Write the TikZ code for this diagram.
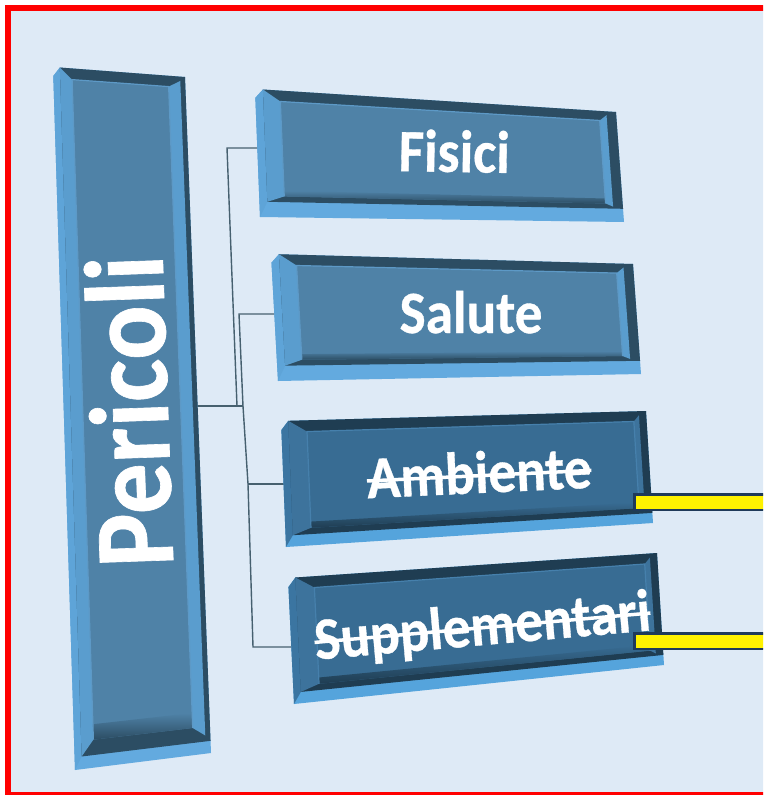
\documentclass[tikz,border=0pt]{standalone}
\usepackage{fontspec}
\setmainfont{Carlito}[BoldFeatures={FakeBold=0.6}]
\usetikzlibrary{calc}
\definecolor{bg}{HTML}{DEEAF6}
\definecolor{connc}{HTML}{46606F}
\definecolor{ybord}{HTML}{1F3A5A}
% light palette
\definecolor{LsideB}{HTML}{63AADF}
\definecolor{LsideL}{HTML}{5EA4D8}
\definecolor{Ldark}{HTML}{2C4D63}
\definecolor{Lbev}{HTML}{5A9DCE}
\definecolor{Lface}{HTML}{4F82A7}
\definecolor{Lframe}{HTML}{5D99C6}
% dark palette
\definecolor{DsideB}{HTML}{55A4DC}
\definecolor{DsideL}{HTML}{3B75A1}
\definecolor{Ddark}{HTML}{1F3D52}
\definecolor{Dbev}{HTML}{3D739C}
\definecolor{Dface}{HTML}{386C93}
\definecolor{Dframe}{HTML}{4680AC}
\newcommand\mkp[4]{\coordinate (#1-#2) at ($($(#1-tl)!#3!(#1-tr)$)!#4!($(#1-bl)!#3!(#1-br)$)$);}
% #1 name #2 sL #3 sB #4 bL #5 bR #6 dR #7 bT #8 bBt #9 palette
\newcommand\bevbox[9]{%
  \pgfmathsetmacro\uA{#2}%
  \pgfmathsetmacro\uB{#2+#4}%
  \pgfmathsetmacro\uC{1-#5-#6}%
  \pgfmathsetmacro\uD{1-#6}%
  \pgfmathsetmacro\vA{1-#3}%
  \pgfmathsetmacro\vB{#7}%
  \pgfmathsetmacro\vC{1-#3-#8}%
  \pgfmathsetmacro\vD{1-#3-2*#8}%
  \pgfmathsetmacro\vR{0.4*#7}%
  \pgfmathsetmacro\vS{1-#3-0.4*#8}%
  \pgfmathsetmacro\vK{0.8*#7}%
  \mkp{#1}{ftl}{\uA}{0}
  \mkp{#1}{ftr}{1}{0}
  \mkp{#1}{fbr}{1}{\vA}
  \mkp{#1}{fbl}{\uA}{\vA}
  \mkp{#1}{itl}{\uB}{\vB}
  \mkp{#1}{itr}{\uC}{\vB}
  \mkp{#1}{ibr}{\uC}{\vC}
  \mkp{#1}{ibl}{\uB}{\vC}
  \mkp{#1}{idr}{\uC}{\vD}
  \mkp{#1}{idl}{\uB}{\vD}
  \mkp{#1}{rt}{\uD}{\vR}
  \mkp{#1}{rb}{\uD}{\vS}
  \mkp{#1}{ch}{0}{\vK}
  \fill[#9sideB] (#1-ftl) -- (#1-tr) -- (#1-br) -- (#1-bl) -- (#1-ch) -- cycle;
  \fill[#9sideL] (#1-ftl) -- (#1-fbl) -- (#1-bl) -- (#1-ch) -- cycle;
  \fill[#9dark] (#1-ftl) -- (#1-ftr) -- (#1-fbr) -- (#1-fbl) -- cycle;
  \fill[#9bev] (#1-ftl) -- (#1-itl) -- (#1-ibl) -- (#1-fbl) -- cycle;
  \fill[#9bev] (#1-rt) -- (#1-itr) -- (#1-ibr) -- (#1-rb) -- cycle;
  \fill[#9face] (#1-itl) -- (#1-itr) -- (#1-ibr) -- (#1-ibl) -- cycle;
  \shade[top color=#9face, bottom color=#9dark] (#1-idl) -- (#1-idr) -- (#1-ibr) -- (#1-ibl) -- cycle;
  \draw[#9frame, line width=1.2pt] (#1-ibl) -- (#1-itl) -- (#1-itr) -- (#1-ibr);
}
\newcommand\mystrike[1]{\setbox0=\hbox{#1}\rlap{\copy0}\rule[0.26em]{\wd0}{0.058em}}
\begin{document}
\begin{tikzpicture}[x=1pt,y=-1pt,
  conn/.style={draw=connc, line width=1.4pt},
  lbl/.style={text=white, font=\bfseries\fontsize{60}{60}\selectfont, inner sep=0pt, anchor=base},
  ybar/.style={fill=yellow, draw=ybord, line width=2.5pt, inner sep=0pt, anchor=north west, minimum width=150pt, minimum height=15.5pt}]
\useasboundingbox (0,0) rectangle (763,795);
\clip (0,0) rectangle (763,795);
\fill[white] (0,0) rectangle (763,795);
\fill[bg] (8,8) rectangle (780,795);
\draw[red, line width=6pt] (8,8) rectangle (790,794.5);

% connectors
\coordinate (Pout) at (197,406);
\coordinate (j0) at (243,406);
\coordinate (j1) at (237,406);
\coordinate (c1) at (227,148);
\coordinate (Fin) at (264,148);
\coordinate (c2) at (239,314);
\coordinate (Sin) at (280,314);
\coordinate (c3) at (248,484);
\coordinate (Ain) at (285,484);
\coordinate (c4) at (253,647);
\coordinate (Uin) at (292,647);
\draw[conn] (Pout) -- (j0);
\draw[conn] (Fin) -- (c1) -- (j1);
\draw[conn] (Sin) -- (c2) -- (j0) -- (c3) -- (c4) -- (Uin);
\draw[conn] (c3) -- (Ain);

% Pericoli
\coordinate (P-tl) at (53,67); \coordinate (P-tr) at (185,77);
\coordinate (P-br) at (211,753); \coordinate (P-bl) at (75,770);
\bevbox{P}{0.052}{0.018}{0.09}{0.09}{0.037}{0.016}{0.022}{L}
% Fisici
\coordinate (F-tl) at (255,89); \coordinate (F-tr) at (616,112);
\coordinate (F-br) at (624,222); \coordinate (F-bl) at (260,217);
\bevbox{F}{0.022}{0.12}{0.047}{0.02}{0.027}{0.086}{0.045}{L}
% Salute
\coordinate (S-tl) at (271,254); \coordinate (S-tr) at (633,264);
\coordinate (S-br) at (641,374); \coordinate (S-bl) at (278,381);
\bevbox{S}{0.022}{0.12}{0.047}{0.02}{0.027}{0.086}{0.045}{L}
% Ambiente
\coordinate (A-tl) at (281,421); \coordinate (A-tr) at (646,411);
\coordinate (A-br) at (653,523); \coordinate (A-bl) at (286,547);
\bevbox{A}{0.02}{0.09}{0.05}{0.015}{0.02}{0.09}{0.05}{D}
% Supplementari
\coordinate (U-tl) at (288,578); \coordinate (U-tr) at (657,553);
\coordinate (U-br) at (664,665); \coordinate (U-bl) at (294,704);
\bevbox{U}{0.02}{0.09}{0.05}{0.015}{0.02}{0.09}{0.05}{D}

% labels
\node[lbl, font=\bfseries\fontsize{113}{113}\selectfont, rotate=92, xscale=0.9] (tP) at (168,410) {Pericoli};
\node[lbl, rotate=-1, xscale=0.92] (tF) at (454,172) {Fisici};
\node[lbl, rotate=0, xscale=0.92] (tS) at (471,333) {Salute};
\node[lbl, rotate=2.7, xscale=0.92] (tA) at (480,493) {\mystrike{Ambiente}};
\node[lbl, rotate=5, xscale=0.92] (tU) at (484,645) {\mystrike{Supplementari}};

% yellow bars
\node[ybar] (yA) at (633,493) {};
\node[ybar] (yU) at (633,632) {};
\end{tikzpicture}
\end{document}
